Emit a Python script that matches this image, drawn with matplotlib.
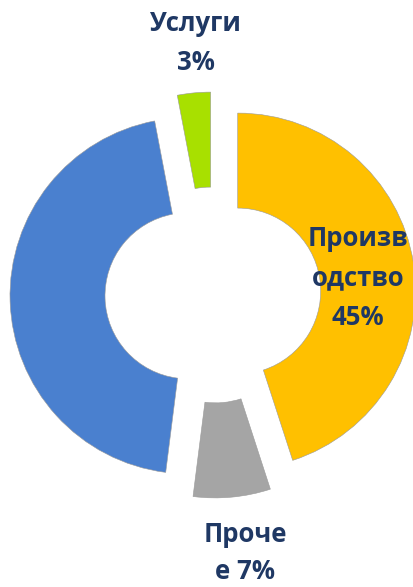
import matplotlib
matplotlib.use("Agg")
import matplotlib.pyplot as plt

categories = ["Производство", "Прочее", "Другое", "Услуги"]
values = [45, 7, 45, 3]
colors = ["#FFC000", "#A5A5A5", "#4A80CF", "#A8E000"]

W, H = 413, 587
fig = plt.figure(figsize=(W / 100, H / 100), dpi=100)
ax = fig.add_axes([0, 0, 1, 1])

ax.pie(values, radius=178, center=(213, -295), explode=[25] * 4,
       startangle=90, counterclock=False, colors=colors,
       wedgeprops=dict(width=95, edgecolor="#9a9a9a", linewidth=0.4),
       frame=True)
ax.set_xlim(0, W)
ax.set_ylim(-H, 0)
ax.set_aspect("equal")
ax.axis("off")

tc = "#1F3864"
fp = dict(color=tc, fontsize=18.5, fontweight="bold", family=["Open Sans", "DejaVu Sans"],
          ha="center", va="center", linespacing=1.6)
ax.text(196, -43, "Услуги\n3%", **fp)
ax.text(358, -278, "Произв\nодство\n45%", **fp)
ax.text(245, -553, "Проче\nе 7%", **dict(fp, linespacing=1.5))

fig.savefig("out.png", dpi=100)
